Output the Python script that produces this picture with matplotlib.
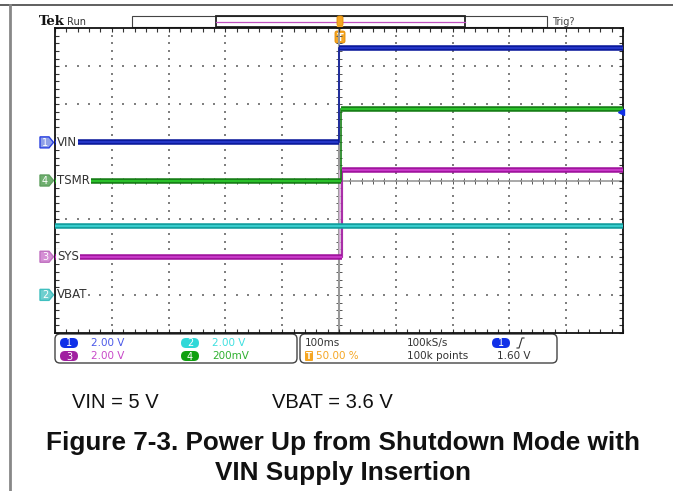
"""Scope capture: power up from shutdown with VIN supply insertion."""
import matplotlib
matplotlib.use("Agg")
import matplotlib.pyplot as plt
from matplotlib.patches import FancyBboxPatch, Polygon, Rectangle
from matplotlib.ticker import MultipleLocator

# channel data (volts), scope settings
channels = ["VIN", "VBAT", "SYS", "TSMR"]
ch_numbers = [1, 2, 3, 4]
volts_per_div = [2.0, 2.0, 2.0, 0.2]
offset_div = [1.0, -3.0, -2.0, 0.0]
level_before = [0.0, 3.62, 0.0, 0.0]
level_after = [4.95, 3.62, 4.55, 0.375]
edge_ms = [0.0, 0.0, 5.0, 3.0]
scale_text = ["2.00 V", "2.00 V", "2.00 V", "200mV"]
time_per_div_ms = 100
trig_level_v = 1.60

trace_dark = ["#0b1a9c", "#139e9e", "#a0149e", "#177f17"]
trace_light = ["#2a3cd0", "#3fd6d6", "#d040d0", "#2ecf2e"]
tag_fill = ["#8fa0e8", "#6fcfcf", "#d58fd5", "#6faf6f"]
tag_edge = ["#2a40e0", "#3fbfbf", "#c070c0", "#5f9f5f"]
pill_col = ["#1030e8", "#30d8d8", "#a020a0", "#10a010"]
txt_col = ["#4a58e8", "#40e0e0", "#c848c8", "#30b030"]

W, H = 673, 491
fig = plt.figure(figsize=(W / 100, H / 100), dpi=100)
ov = fig.add_axes([0, 0, 1, 1], zorder=0)
ov.set_xlim(0, W)
ov.set_ylim(H, 0)
ov.axis("off")

# document frame
ov.plot([0, W], [5, 5], color="#444444", lw=1.2)
ov.plot([10, 10], [5, H], color="#888888", lw=2)

# scope graticule
L, R, T, B = 55, 623, 28, 333
sc = fig.add_axes([L / W, 1 - B / H, (R - L) / W, (B - T) / H], zorder=2)
sc.set_facecolor("none")
xmax = 5 * time_per_div_ms
sc.set_xlim(-xmax, xmax)
sc.set_ylim(-4, 4)
for s in sc.spines.values():
    s.set_color("#111111")
    s.set_linewidth(1.3)
sc.xaxis.set_major_locator(MultipleLocator(time_per_div_ms))
sc.xaxis.set_minor_locator(MultipleLocator(time_per_div_ms / 5))
sc.yaxis.set_major_locator(MultipleLocator(1))
sc.yaxis.set_minor_locator(MultipleLocator(0.2))
sc.tick_params(which="both", direction="in", top=True, right=True,
               labelbottom=False, labelleft=False, color="#333333", width=0.8)
sc.tick_params(which="major", length=3)
sc.tick_params(which="minor", length=3)

dot_kw = dict(s=1.2, color="#808080", marker="s", linewidths=0, zorder=1)
for k in range(-4, 5):
    xs = [time_per_div_ms * k] * 41
    ys = [-4 + 0.2 * i for i in range(41)]
    sc.scatter(xs, ys, **dot_kw)
for k in range(-3, 4):
    xs = [-xmax + time_per_div_ms / 5 * i for i in range(51)]
    sc.scatter(xs, [k] * 51, **dot_kw)
# center cross ticks
cx = [-xmax + time_per_div_ms / 5 * i for i in range(51)]
sc.scatter(cx, [0] * 51, marker="|", s=14, color="#555555", linewidths=0.7, zorder=1)
cy = [-4 + 0.2 * i for i in range(41)]
sc.scatter([0] * 41, cy, marker="_", s=14, color="#555555", linewidths=0.7, zorder=1)
sc.axhline(0, color="#999999", lw=1.2, zorder=1)
sc.axvline(0, color="#999999", lw=1.5, zorder=1)

# traces
for i in range(len(channels)):
    y0 = level_before[i] / volts_per_div[i] + offset_div[i]
    y1 = level_after[i] / volts_per_div[i] + offset_div[i]
    e = edge_ms[i]
    if i == 2:
        sc.fill_betweenx([y0, y1], 0, e, color="#d8b0d8", alpha=0.8, zorder=3)
    for xa, xb, yy in [(-xmax, e, y0), (e, xmax, y1)]:
        sc.plot([xa, xb], [yy, yy], color=trace_dark[i], lw=4.0,
                solid_capstyle="butt", zorder=4 + i * 0.1)
        sc.plot([xa, xb], [yy, yy], color=trace_light[i], lw=1.2,
                solid_capstyle="butt", zorder=4 + i * 0.1)
    sc.plot([e, e], [y0, y1], color=trace_dark[i], lw=1.2, zorder=4)

# trigger level arrow (ch1)
sc.plot([xmax - 3], [trig_level_v / volts_per_div[0] + offset_div[0]], marker="<",
        ms=5, color="#1030e8", clip_on=False, zorder=6)


def to_px_y(div):
    return H - sc.transData.transform((0, div))[1]


# channel tags and labels
for i, name in enumerate(channels):
    yc = to_px_y(offset_div[i])
    pts = [(40, yc - 5.5), (49, yc - 5.5), (53.5, yc), (49, yc + 5.5), (40, yc + 5.5)]
    ov.add_patch(Polygon(pts, closed=True, fc=tag_fill[i], ec=tag_edge[i], lw=1.0, zorder=5))
    ov.text(45, yc + 0.5, str(ch_numbers[i]), ha="center", va="center",
            fontsize=7, color="white", zorder=6)
    sc.text(-xmax + 3.5, offset_div[i], name, ha="left", va="center", fontsize=8.5,
            color="#333333", zorder=8, clip_on=False,
            bbox=dict(fc="white", ec="none", pad=0.6))

# top labels and record bar
ov.text(39, 21, "Tek", fontsize=9.5, fontweight="bold", ha="left", va="center",
        family="DejaVu Serif", color="#111111")
ov.text(67, 22, "Run", fontsize=7, ha="left", va="center", color="#333333")
ov.add_patch(Rectangle((132, 16), 415, 11, fc="white", ec="#444444", lw=0.8))
ov.add_patch(Rectangle((216, 16), 249, 11, fc="none", ec="#222222", lw=1.3))
ov.plot([216, 465], [21.5, 21.5], color="#c050c0", lw=0.9)
ov.text(552, 22, "Trig?", fontsize=7, ha="left", va="center", color="#444444")
ov.add_patch(FancyBboxPatch((337, 16), 6, 10, boxstyle="round,pad=0,rounding_size=2",
                            fc="#f5a623", ec="#e08a00", lw=0.6, zorder=5))
ov.add_patch(Polygon([(336.5, 26), (343.5, 26), (340, 31)], fc="#f5a623", ec="none", zorder=5))
ov.add_patch(FancyBboxPatch((335, 31), 10, 12, boxstyle="round,pad=0,rounding_size=2",
                            fc="#f5a623", ec="#e08a00", lw=0.6, zorder=5))
ov.text(340, 37.5, "T", fontsize=7, color="white", ha="center", va="center",
        fontweight="bold", zorder=6)

# settings readout
ov.add_patch(FancyBboxPatch((55, 334), 242, 29, boxstyle="round,pad=0,rounding_size=5",
                            fc="white", ec="#444444", lw=1.0))
ov.add_patch(FancyBboxPatch((300, 334), 257, 29, boxstyle="round,pad=0,rounding_size=5",
                            fc="white", ec="#444444", lw=1.0))
pill_pos = [(69, 343), (190, 343), (69, 356), (190, 356)]
for i in range(len(channels)):
    px, py = pill_pos[i]
    ov.add_patch(FancyBboxPatch((px - 9, py - 5), 18, 10,
                                boxstyle="round,pad=0,rounding_size=5",
                                fc=pill_col[i], ec="none"))
    ov.text(px, py + 0.5, str(ch_numbers[i]), fontsize=7, color="white",
            ha="center", va="center")
    ov.text(px + 22, py, scale_text[i], fontsize=7.5, color=txt_col[i],
            ha="left", va="center")
ov.text(305, 343, f"{time_per_div_ms}ms", fontsize=7.5, color="#333333", va="center")
ov.add_patch(FancyBboxPatch((305, 351), 8, 10, boxstyle="round,pad=0,rounding_size=1",
                            fc="#f5a623", ec="none"))
ov.text(309, 356.5, "T", fontsize=6, color="white", ha="center", va="center",
        fontweight="bold")
ov.text(316, 356, "50.00 %", fontsize=7.5, color="#f5a623", va="center")
ov.text(407, 343, "100kS/s", fontsize=7.5, color="#333333", va="center")
ov.text(407, 356, "100k points", fontsize=7.5, color="#333333", va="center")
ov.add_patch(FancyBboxPatch((492, 338), 18, 10, boxstyle="round,pad=0,rounding_size=5",
                            fc=pill_col[0], ec="none"))
ov.text(501, 343.5, "1", fontsize=7, color="white", ha="center", va="center")
ov.plot([517, 519, 522, 524], [348, 348, 338, 338], color="#333333", lw=0.8)
ov.text(497, 356, f"{trig_level_v:.2f} V", fontsize=7.5, color="#333333", va="center")

# caption
ov.text(72, 403, "VIN = 5 V", fontsize=14.5, family="Liberation Sans",
        ha="left", va="center", color="#111111")
ov.text(272, 403, "VBAT = 3.6 V", fontsize=14.5, family="Liberation Sans",
        ha="left", va="center", color="#111111")
ov.text(343, 443, "Figure 7-3. Power Up from Shutdown Mode with", fontsize=18.8,
        family="Liberation Sans", fontweight="bold", ha="center", va="center",
        color="#111111")
ov.text(343, 473, "VIN Supply Insertion", fontsize=18.8, family="Liberation Sans",
        fontweight="bold", ha="center", va="center", color="#111111")

fig.savefig("out.png", dpi=100)
